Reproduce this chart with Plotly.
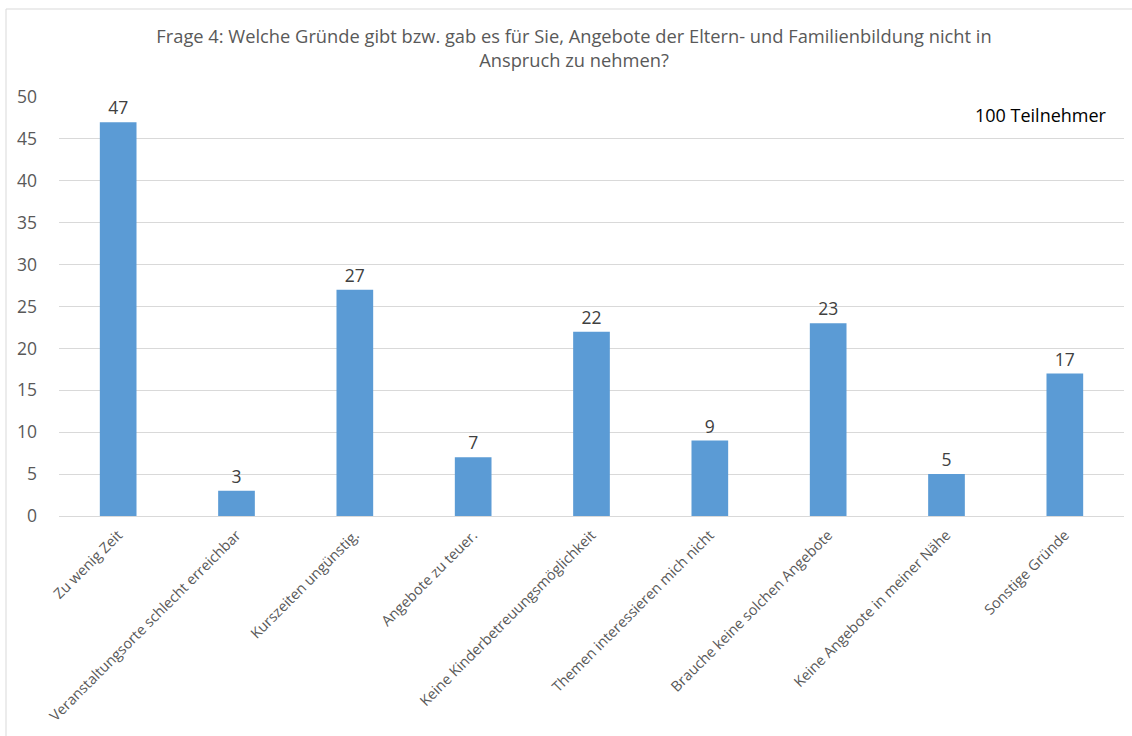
import plotly.graph_objects as go

categories = [
    "Zu wenig Zeit",
    "Veranstaltungsorte schlecht erreichbar",
    "Kurszeiten ungünstig.",
    "Angebote zu teuer.",
    "Keine Kinderbetreuungsmöglichkeit",
    "Themen interessieren mich nicht",
    "Brauche keine solchen Angebote",
    "Keine Angebote in meiner Nähe",
    "Sonstige Gründe",
]
values = [47, 3, 27, 7, 22, 9, 23, 5, 17]
y_ticks = [0, 5, 10, 15, 20, 25, 30, 35, 40, 45, 50]

FONT = "Open Sans"
W, H = 1132, 736
L, R, T, B = 59, 8, 97, 220
pw = W - L - R
ph = H - T - B

fig = go.Figure()
fig.add_trace(go.Bar(
    x=categories, y=values,
    marker=dict(color="#5B9BD5", line=dict(width=0)),
    text=[str(v) for v in values],
    textposition="outside",
    textfont=dict(family=FONT, size=17.5, color="#404040"),
    cliponaxis=False,
))

fig.update_layout(
    width=W, height=H,
    margin=dict(l=L, r=R, t=T, b=B),
    paper_bgcolor="white", plot_bgcolor="white",
    bargap=0.69,
    showlegend=False,
    font=dict(family=FONT, color="#595959"),
    title=dict(
        text="Frage 4: Welche Gründe gibt bzw. gab es für Sie, Angebote der Eltern- und Familienbildung nicht in<br>Anspruch zu nehmen?",
        x=574 / W, xanchor="center", xref="container",
        y=1 - 43 / H, yanchor="middle", yref="container",
        font=dict(family=FONT, size=18.3, color="#595959"),
    ),
    xaxis=dict(
        tickangle=-45,
        tickfont=dict(family=FONT, size=14.5, color="#595959"),
        showgrid=False,
        showline=True, linecolor="#D9D9D9", linewidth=1,
        ticks="", ticklabelstandoff=4,
    ),
    yaxis=dict(
        range=[0, 50],
        tickvals=y_ticks,
        tickfont=dict(family=FONT, size=17.5, color="#595959"),
        showgrid=True, gridcolor="#D9D9D9", gridwidth=1,
        zeroline=False, showline=False,
        ticks="", ticklabelstandoff=21,
    ),
    shapes=[dict(
        type="rect", xref="paper", yref="paper",
        x0=(6 - L) / pw, x1=(1140 - L) / pw,
        y0=-(B + 10) / ph, y1=(H - B - 9) / ph,
        line=dict(color="#D9D9D9", width=1), fillcolor="rgba(0,0,0,0)",
        layer="below",
    )],
    annotations=[dict(
        text="100 Teilnehmer", xref="paper", yref="paper",
        x=(1109 - L) / pw, xanchor="right",
        y=(516 - 115) / ph, yanchor="middle",
        showarrow=False,
        font=dict(family=FONT, size=18, color="#000000"),
    )],
)

fig.write_html(
    "out.html",
    config={"displayModeBar": False},
    post_script="document.body.style.margin='0px';document.body.style.overflow='hidden';",
)
